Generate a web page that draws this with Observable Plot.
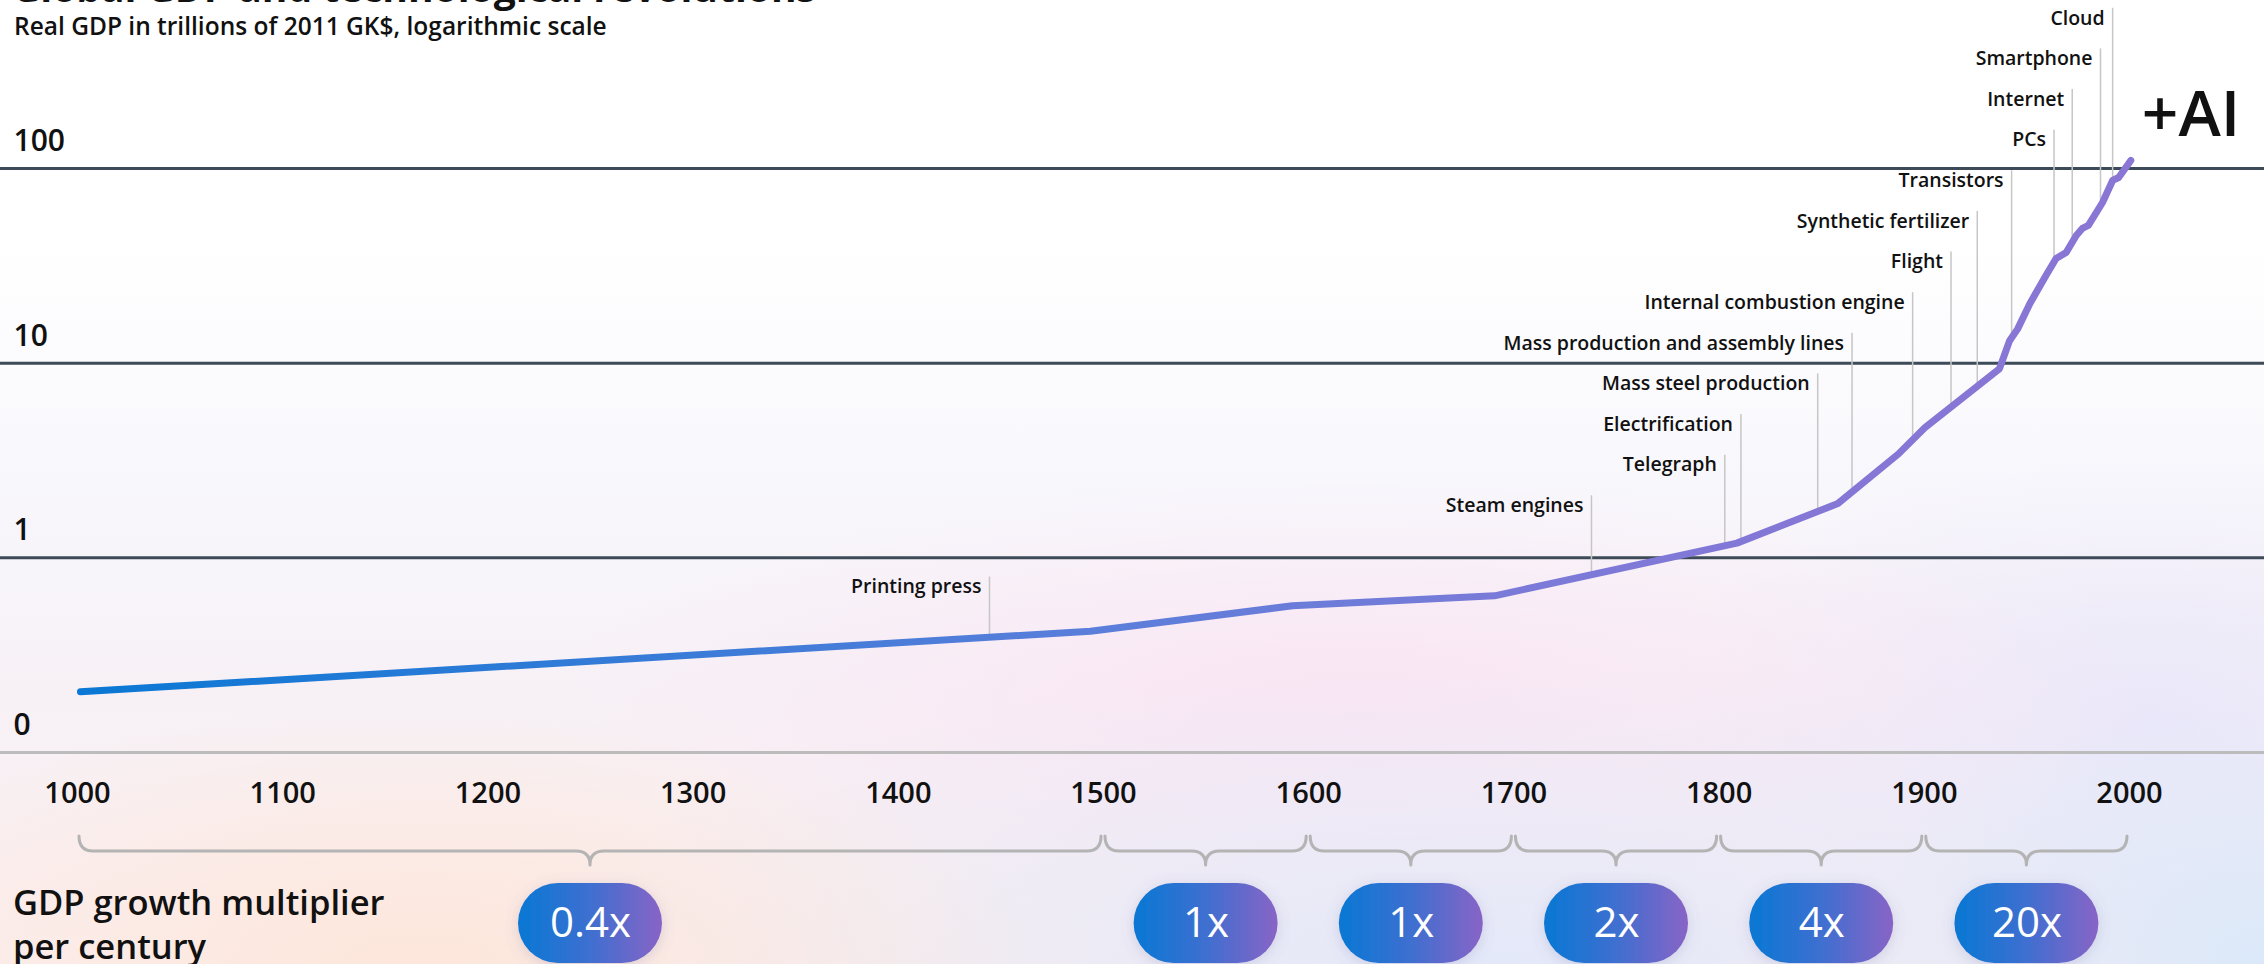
<!DOCTYPE html>
<html>
<head>
<meta charset="utf-8">
<script src="https://cdn.jsdelivr.net/npm/d3@7"></script>
<script src="https://cdn.jsdelivr.net/npm/@observablehq/plot@0.6"></script>
<style>
  html, body { margin: 0; padding: 0; }
  body {
    width: 2264px; height: 964px; overflow: hidden; position: relative;
    font-family: "Open Sans", sans-serif; color: #111;
    background:
      radial-gradient(ellipse 620px 260px at 420px 964px, rgba(253,230,218,0.95), rgba(253,230,218,0) 100%),
      radial-gradient(ellipse 1000px 300px at 1500px 964px, rgba(226,232,250,0.95), rgba(226,232,250,0) 100%),
      radial-gradient(ellipse 420px 260px at 2264px 964px, rgba(214,232,250,0.95), rgba(214,232,250,0) 100%),
      radial-gradient(ellipse 800px 220px at 1350px 700px, rgba(250,228,243,0.9), rgba(250,228,243,0) 100%),
      radial-gradient(ellipse 500px 260px at 2150px 720px, rgba(232,230,250,0.9), rgba(232,230,250,0) 100%),
      linear-gradient(180deg, #ffffff 0%, #ffffff 25%, #f8f7fc 50%, #f7f1f6 72%, #fbeeee 100%);
  }
  #title { position: absolute; left: 12px; top: -33px; font-size: 39px; font-weight: 700; line-height: 40px; white-space: nowrap; }
  #subtitle { position: absolute; left: 14px; top: 14px; font-size: 24.5px; font-weight: 600; line-height: 24px; white-space: nowrap; }
  #mult { position: absolute; left: 13px; top: 880px; font-size: 34.5px; font-weight: 600; line-height: 44px; }
  #main { position: absolute; left: 0; top: 0; }
  #bottom { position: absolute; left: 0; top: 752px; }
  svg { overflow: visible; }
</style>
</head>
<body>
<div id="title">Global GDP and technological revolutions</div>
<div id="subtitle">Real GDP in trillions of 2011 GK$, logarithmic scale</div>
<div id="mult">GDP growth multiplier<br>per century</div>
<div id="main"></div>
<div id="bottom"></div>
<script>
// ---------------- DATA ----------------
const years = [1000, 1500, 1600, 1700, 1820, 1870, 1900, 1913, 1950, 1955, 1959, 1965, 1973, 1978, 1983, 1988, 1991, 1994, 2001, 2006, 2009, 2015];
const gdp   = [0.205, 0.42, 0.567, 0.638, 1.19, 1.90, 3.42, 4.66, 9.37, 13.05, 15.0, 20.2, 28.2, 34.5, 37.0, 45.3, 49.2, 51.0, 66.9, 86.8, 89.9, 110];

const techNames = ["Printing press", "Steam engines", "Telegraph", "Electrification", "Mass steel production",
  "Mass production and assembly lines", "Internal combustion engine", "Flight", "Synthetic fertilizer",
  "Transistors", "PCs", "Internet", "Smartphone", "Cloud"];
const techYears = [1450, 1748, 1814, 1822, 1860, 1877, 1907, 1926, 1939, 1956, 1977, 1986, 2000, 2006];

const yTicks = [0.1, 1, 10, 100];
const yTickLabels = ["0", "1", "10", "100"];
const xTicks = [1000, 1100, 1200, 1300, 1400, 1500, 1600, 1700, 1800, 1900, 2000];

const centuryStarts = [1000, 1500, 1600, 1700, 1800, 1900];
const centuryEnds   = [1500, 1600, 1700, 1800, 1900, 2000];
const multipliers   = ["0.4x", "1x", "1x", "2x", "4x", "20x"];

const aiLabel = "+AI";

// ---------------- LAYOUT ----------------
// annotation tiers (0 = highest row)
const techTiers = [14, 12, 11, 10, 9, 8, 7, 6, 5, 4, 3, 2, 1, 0];
const tierValue = t => Math.pow(10, 2.823 - 0.2087 * t);
const FONT = "'Open Sans', sans-serif";

function gdpAt(yr) {
  let i = d3.bisectRight(years, yr);
  i = Math.max(1, Math.min(years.length - 1, i));
  const t = (yr - years[i - 1]) / (years[i] - years[i - 1]);
  return Math.exp(Math.log(gdp[i - 1]) * (1 - t) + Math.log(gdp[i]) * t);
}

const series = years.map((year, i) => ({year, value: gdp[i]}));
const tech = techNames.map((name, i) => ({
  name, year: techYears[i], top: tierValue(techTiers[i]), bottom: gdpAt(techYears[i])
}));
const last = series[series.length - 1];

const lineGradient = (index, scales) => {
  const g = d3.create("svg:g");
  const lg = g.append("defs").append("linearGradient")
    .attr("id", "lineGrad").attr("gradientUnits", "userSpaceOnUse")
    .attr("x1", scales.x(1000)).attr("x2", scales.x(2000)).attr("y1", 0).attr("y2", 0);
  [[0, "#0a78d4"], [0.5, "#5a7eda"], [0.7, "#7a7ad8"], [0.85, "#8477d6"], [1, "#8a76d4"]]
    .forEach(([o, c]) => lg.append("stop").attr("offset", o).attr("stop-color", c));
  return g.node();
};

const main = Plot.plot({
  width: 2264, height: 770,
  marginTop: 0, marginBottom: 18, marginLeft: 0, marginRight: 0,
  style: {background: "transparent", fontFamily: FONT, color: "#111"},
  x: {domain: [1000, 2000], range: [80, 2100], axis: null},
  y: {type: "log", domain: [0.1, 100], range: [752, 168]},
  marks: [
    Plot.ruleY([1, 10, 100], {stroke: "#3d4a57", strokeWidth: 3}),
    Plot.ruleY([0.1], {stroke: "#bcbcbc", strokeWidth: 3}),
    Plot.axisY({ticks: yTicks, tickFormat: d => yTickLabels[yTicks.indexOf(d)], tickSize: 0, tickPadding: 0,
      label: null, textAnchor: "start", dx: 13, dy: -27, fontSize: 30, fontWeight: 600, fill: "#111"}),
    Plot.ruleX(tech, {x: "year", y1: "bottom", y2: "top", stroke: "#c6c6c6", strokeWidth: 1.5}),
    Plot.text(tech, {x: "year", y: "top", text: "name", textAnchor: "end", dx: -8, dy: 10,
      fontSize: 19.5, fontWeight: 600, fill: "#111"}),
    lineGradient,
    Plot.line(series, {x: "year", y: "value", stroke: "url(#lineGrad)", strokeWidth: 7,
      strokeLinecap: "round", strokeLinejoin: "round"}),
    Plot.text([last], {x: "year", y: "value", text: () => aiLabel, textAnchor: "start", dx: 11, dy: -45,
      fontSize: 64, fontWeight: 600, fill: "#111"})
  ]
});
document.getElementById("main").append(main);

// ---------------- BOTTOM: year axis, braces, multipliers ----------------
const centuries = centuryStarts.map((s, i) => ({start: s, end: centuryEnds[i], mid: (s + centuryEnds[i]) / 2, label: multipliers[i]}));

const braces = (index, scales) => {
  const g = d3.create("svg:g");
  const top = 84, mid = 99, tip = 113;
  for (const c of centuries) {
    const a = scales.x(c.start) + 2, b = scales.x(c.end) - 2, m = scales.x(c.mid);
    const p = `M${a},${top} Q${a},${mid} ${a + 14},${mid} L${m - 14},${mid} Q${m},${mid} ${m},${tip} ` +
              `M${m},${tip} Q${m},${mid} ${m + 14},${mid} L${b - 14},${mid} Q${b},${mid} ${b},${top}`;
    g.append("path").attr("d", p).attr("fill", "none").attr("stroke", "#b4b4b4").attr("stroke-width", 3)
      .attr("stroke-linecap", "round");
  }
  return g.node();
};

const pills = (index, scales) => {
  const g = d3.create("svg:g");
  const defs = g.append("defs");
  const lg = defs.append("linearGradient").attr("id", "pillGrad").attr("x1", 0).attr("x2", 1).attr("y1", 0).attr("y2", 0);
  lg.append("stop").attr("offset", 0).attr("stop-color", "#0878d4");
  lg.append("stop").attr("offset", 0.5).attr("stop-color", "#3e6fd0");
  lg.append("stop").attr("offset", 1).attr("stop-color", "#8864c6");
  const f = defs.append("filter").attr("id", "pillShadow").attr("x", "-40%").attr("y", "-40%").attr("width", "180%").attr("height", "180%");
  f.append("feDropShadow").attr("dx", 0).attr("dy", 3).attr("stdDeviation", 7)
    .attr("flood-color", "#6a6aa0").attr("flood-opacity", 0.22);
  for (const c of centuries) {
    const m = scales.x(c.mid);
    g.append("rect").attr("x", m - 72).attr("y", 131).attr("width", 144).attr("height", 80)
      .attr("rx", 40).attr("ry", 40).attr("fill", "url(#pillGrad)").attr("filter", "url(#pillShadow)");
  }
  return g.node();
};

const bottom = Plot.plot({
  width: 2264, height: 212,
  marginTop: 41, marginBottom: 0, marginLeft: 0, marginRight: 0,
  style: {background: "transparent", fontFamily: FONT, color: "#111"},
  x: {domain: [1000, 2000], range: [77, 2129]},
  marks: [
    Plot.axisX({anchor: "top", ticks: xTicks, tickFormat: d => String(d), tickSize: 0, tickPadding: 0,
      label: null, lineAnchor: "middle", fontSize: 29, fontWeight: 600, fill: "#111"}),
    braces,
    pills,
    Plot.text(centuries, {x: "mid", text: "label", frameAnchor: "top", dy: 130, lineAnchor: "middle",
      fill: "white", fontSize: 42, fontWeight: 400})
  ]
});
document.getElementById("bottom").append(bottom);
</script>
</body>
</html>
